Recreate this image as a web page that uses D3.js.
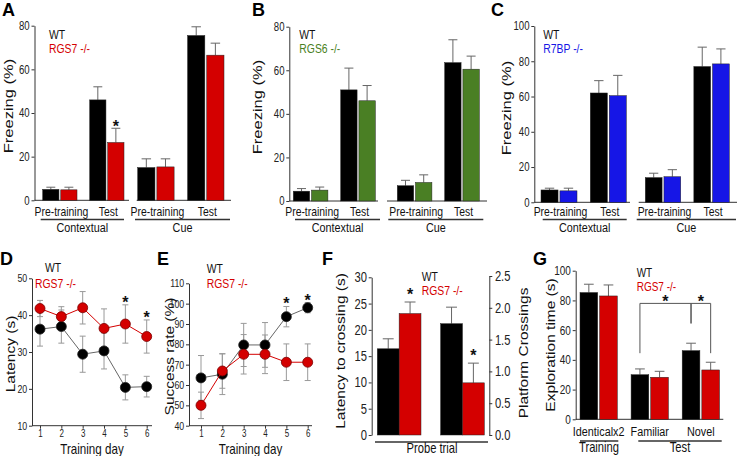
<!DOCTYPE html>
<html>
<head>
<meta charset="utf-8">
<script src="https://cdn.jsdelivr.net/npm/d3@7"></script>
<style>
  body { margin: 0; background: #fff; }
  svg { display: block; font-family: "Liberation Sans", Arial, sans-serif; }
</style>
</head>
<body>
<svg width="738" height="456"></svg>
<script>
// ---------- data ----------
var phases = ["Pre-training", "Test", "Pre-training", "Test"];
var sections = ["Contextual", "Cue"];

var aWT = [5, 46, 15, 75.5], aWTerr = [1, 6, 4, 4];
var aKO = [4.8, 26.5, 15.3, 66.5], aKOerr = [1.2, 6.5, 3.7, 5.5];
var bWT = [4.5, 51, 7, 63.5], bWTerr = [1.2, 10, 2.5, 10.5];
var bKO = [5, 46, 8.5, 60.5], bKOerr = [1.4, 7, 3.5, 6];
var cWT = [7, 62, 14, 77], cWTerr = [1, 7, 2.5, 11];
var cKO = [6.5, 60.5, 14.5, 78.5], cKOerr = [1.5, 11.5, 4, 8.5];

var days = [1, 2, 3, 4, 5, 6];
var dWT = [36.2, 36.9, 29.4, 30.3, 20.4, 20.6], dWTerr = [4.6, 4.5, 4.9, 4.9, 3.4, 2.8];
var dKO = [41.8, 39.6, 42, 36.4, 37.6, 34.2], dKOerr = [2.2, 2.7, 4.4, 5.3, 5.2, 4.5];
var dStarDays = [5, 6];
var eWT = [63.5, 65.3, 79.7, 79.7, 93.6, 98], eWTerr = [11, 10, 10.6, 11, 5, 2.5];
var eKO = [50, 66.9, 75.1, 75.1, 71.2, 71.2], eKOerr = [6.5, 8.5, 9.7, 9.5, 9, 9];
var eStarDays = [5, 6];

var fLatency = [16.4, 23.1], fLatencyErr = [1.9, 2.2];
var fCross = [1.75, 0.82], fCrossErr = [0.26, 0.31];

var gCats = ["Identicalx2", "Familiar", "Novel"];
var gWT = [85.3, 30, 46.2], gWTerr = [5.6, 3.9, 5];
var gKO = [83, 28.3, 33.2], gKOerr = [7.4, 4, 5.2];

// ---------- helpers ----------
var svg = d3.select("svg");
var K = 0.8;
var RED = "#d40000", GREEN = "#4a7f24", BLUE = "#1616e6";
var AX = "#333", ERR = "#666";

function T(str, x, y, o) {
  o = o || {};
  var tr = "translate(" + x + "," + y + ")";
  if (!o.noScale) tr += " scale(" + (o.k || K) + ",1)";
  if (o.rot) tr += " rotate(-90)";
  return svg.append("text").attr("transform", tr)
    .attr("font-size", o.size || 12)
    .attr("text-anchor", o.anchor || "start")
    .attr("font-weight", o.bold ? "bold" : null)
    .attr("fill", o.fill || "#111")
    .text(str);
}

function fixAxis(ax, size) {
  ax.attr("font-family", null).attr("font-size", null);
  ax.select(".domain").attr("stroke", AX);
  ax.selectAll(".tick line").attr("stroke", AX);
  ax.selectAll(".tick text").attr("font-size", size).attr("fill", "#222")
    .attr("transform", "scale(" + K + ",1)");
}

function hline(x1, x2, y, w, c) {
  svg.append("line").attr("x1", x1).attr("x2", x2).attr("y1", y).attr("y2", y)
    .attr("stroke", c || AX).attr("stroke-width", w || 1);
}

function errUp(cx, yv, ye, cap) {
  svg.append("line").attr("x1", cx).attr("x2", cx).attr("y1", yv).attr("y2", ye).attr("stroke", ERR);
  svg.append("line").attr("x1", cx - cap / 2).attr("x2", cx + cap / 2).attr("y1", ye).attr("y2", ye).attr("stroke", ERR);
}

function star(x, y) {
  T("*", x, y, {size: 16, anchor: "middle", bold: true, k: 1});
}

// ---------- panels A-C ----------
function barPanel(o) {
  var y = d3.scaleLinear().domain([0, o.max]).range([o.y0, o.y1]);
  var ax = svg.append("g").attr("transform", "translate(" + o.ax + ",0)")
    .call(d3.axisLeft(y).ticks(o.max / 20).tickSize(3).tickPadding(3).tickSizeOuter(0));
  fixAxis(ax, 12);
  o.segs.forEach(function(s, si) {
    hline(s.axis[0], s.axis[1], o.y0);
    var idx = [si * 2, si * 2 + 1];
    var xb = d3.scaleBand().domain(idx).range(s.bars).paddingInner(0.27);
    var xi = d3.scaleBand().domain([0, 1]).range([0, xb.bandwidth()]).paddingInner(0.1);
    idx.forEach(function(i) {
      var ser = [{v: o.wt[i], e: o.wtErr[i], c: "#000"}, {v: o.ko[i], e: o.koErr[i], c: o.color}];
      ser.forEach(function(d, k) {
        var x0 = xb(i) + xi(k), w = xi.bandwidth();
        errUp(x0 + w / 2, y(d.v), y(d.v + d.e), w * 0.55);
        svg.append("rect").attr("x", x0).attr("y", y(d.v)).attr("width", w)
          .attr("height", o.y0 - y(d.v)).attr("fill", d.c)
          .attr("stroke", "#222").attr("stroke-width", 0.5);
        if (o.stars && o.stars.some(function(st) { return st[0] === i && st[1] === k; }))
          star(x0 + w / 2, y(d.v + d.e) + 4);
      });
      T(phases[i], xb(i) + xb.bandwidth() / 2 + 1.5, 215.5, {size: 13, anchor: "middle"});
    });
    hline(s.line[0], s.line[1], 219.5, 1.6, "#333");
    T(sections[si], (s.line[0] + s.line[1]) / 2, 231.5, {size: 13.5, anchor: "middle"});
  });
  T("Freezing (%)", o.titleX, o.titleY, {size: 16.5, anchor: "middle", rot: true});
  T("WT", o.legX, 39, {size: 13});
  T(o.koName, o.legX, 52.5, {size: 13, fill: o.color});
  T(o.letter, o.letterX, 16, {size: 18, bold: true, noScale: true, fill: "#000"});
}

barPanel({letter: "A", letterX: 2, ax: 34.5, y0: 200.3, y1: 25.7, max: 80,
  wt: aWT, wtErr: aWTerr, ko: aKO, koErr: aKOerr, color: RED, koName: "RGS7 -/-",
  stars: [[1, 1]], titleX: 13, titleY: 106, legX: 49,
  segs: [{axis: [34.5, 129], bars: [42.7, 124], line: [40.7, 124]},
         {axis: [136.7, 231], bars: [137.7, 224], line: [135, 230]}]});

barPanel({letter: "B", letterX: 252, ax: 289.3, y0: 201, y1: 26.7, max: 80,
  wt: bWT, wtErr: bWTerr, ko: bKO, koErr: bKOerr, color: GREEN, koName: "RGS6 -/-",
  titleX: 262, titleY: 107, legX: 299.3,
  segs: [{axis: [289.3, 378], bars: [293.3, 375.3], line: [295, 380]},
         {axis: [387, 487], bars: [397.3, 479.3], line: [388.3, 483.3]}]});

barPanel({letter: "C", letterX: 491, ax: 534.3, y0: 202.3, y1: 26, max: 100,
  wt: cWT, wtErr: cWTerr, ko: cKO, koErr: cKOerr, color: BLUE, koName: "R7BP -/-",
  titleX: 511, titleY: 108, legX: 543.3,
  segs: [{axis: [534.3, 630], bars: [541, 626.3], line: [542.7, 626.7]},
         {axis: [638.7, 737], bars: [645.3, 729.3], line: [636.7, 736]}]});

// ---------- panels D-E ----------
function linePanel(o) {
  var x = d3.scaleLinear().domain([1, 6]).range(o.xr);
  var y = d3.scaleLinear().domain(o.dom).range([o.y0, o.y1]);
  var ay = svg.append("g").attr("transform", "translate(" + o.ax + ",0)")
    .call(d3.axisLeft(y).tickValues(o.ticks).tickSize(3).tickPadding(3).tickSizeOuter(0));
  fixAxis(ay, 11);
  hline(o.ax, o.axEnd, o.y0);
  var axb = svg.append("g").attr("transform", "translate(0," + o.y0 + ")")
    .call(d3.axisBottom(x).tickValues(days).tickFormat(d3.format("d"))
      .tickSize(3).tickPadding(1.5).tickSizeOuter(0));
  fixAxis(axb, 10);
  axb.select(".domain").remove();

  var series = [{v: o.wt, e: o.wtErr, c: "#000", lc: "#666", sc: "#222"},
                {v: o.ko, e: o.koErr, c: RED, lc: RED, sc: "#7a0000"}];
  series.forEach(function(s) {
    days.forEach(function(d, i) {
      var cx = x(d);
      svg.append("line").attr("x1", cx).attr("x2", cx)
        .attr("y1", y(s.v[i] - s.e[i])).attr("y2", y(s.v[i] + s.e[i])).attr("stroke", "#999");
      [s.v[i] - s.e[i], s.v[i] + s.e[i]].forEach(function(ev) {
        svg.append("line").attr("x1", cx - 3).attr("x2", cx + 3)
          .attr("y1", y(ev)).attr("y2", y(ev)).attr("stroke", "#999");
      });
    });
  });
  series.forEach(function(s) {
    svg.append("path").datum(s.v)
      .attr("fill", "none").attr("stroke", s.lc).attr("stroke-width", 1)
      .attr("d", d3.line().x(function(d, i) { return x(days[i]); }).y(function(d) { return y(d); }));
    svg.selectAll(null).data(s.v).enter().append("circle")
      .attr("cx", function(d, i) { return x(days[i]); })
      .attr("cy", function(d) { return y(d); })
      .attr("r", 5).attr("fill", s.c).attr("stroke", s.sc).attr("stroke-width", 0.8);
  });
  o.stars.forEach(function(d) {
    var i = days.indexOf(d);
    var top = Math.max(o.wt[i] + o.wtErr[i], o.ko[i] + o.koErr[i]);
    star(x(d), y(top) + 3);
  });
  T("Training day", (o.ax + o.axEnd) / 2, 453.5, {size: 14.5, anchor: "middle"});
  T(o.title, o.titleX, (o.y0 + o.y1) / 2 + 2, {size: 15.5, anchor: "middle", rot: true});
  T("WT", o.legX[0], o.legY[0], {size: 13});
  T("RGS7 -/-", o.legX[1], o.legY[1], {size: 13, fill: RED});
  T(o.letter, o.letterX, 265, {size: 18, bold: true, noScale: true, fill: "#000"});
}

linePanel({letter: "D", letterX: 0, ax: 32, axEnd: 152, xr: [40, 146.7], y0: 425.7, y1: 278.3,
  dom: [10, 50], ticks: [10, 20, 30, 40, 50], wt: dWT, wtErr: dWTerr, ko: dKO, koErr: dKOerr,
  stars: dStarDays, title: "Latency (s)", titleX: 15, legX: [45, 35], legY: [271.5, 288]});

linePanel({letter: "E", letterX: 157, ax: 189, axEnd: 312, xr: [201, 307.7], y0: 425.7, y1: 283.3,
  dom: [40, 110], ticks: [40, 50, 60, 70, 80, 90, 100, 110], wt: eWT, wtErr: eWTerr, ko: eKO, koErr: eKOerr,
  stars: eStarDays, title: "Success rate (%)", titleX: 174, legX: [206.7, 206.7], legY: [273.3, 288.3]});

// ---------- panel F ----------
(function() {
  var y0 = 435;
  var yL = d3.scaleLinear().domain([0, 30]).range([y0, 277.3]);
  var yR = d3.scaleLinear().domain([0, 2.5]).range([y0, 276]);
  var al = svg.append("g").attr("transform", "translate(371.7,0)")
    .call(d3.axisLeft(yL).tickValues([0, 5, 10, 15, 20, 25, 30]).tickSize(3).tickPadding(3).tickSizeOuter(0));
  fixAxis(al, 14);
  var ar = svg.append("g").attr("transform", "translate(489.3,0)")
    .call(d3.axisRight(yR).tickValues([0, 0.5, 1, 1.5, 2, 2.5]).tickFormat(d3.format(".1f"))
      .tickSize(3).tickPadding(4).tickSizeOuter(0));
  fixAxis(ar, 14);
  var xb = d3.scaleBand().domain([0, 1]).range([377.3, 484.3]).paddingInner(0.31);
  var xi = d3.scaleBand().domain([0, 1]).range([0, xb.bandwidth()]);
  var sets = [{ys: yL, v: fLatency, e: fLatencyErr}, {ys: yR, v: fCross, e: fCrossErr}];
  sets.forEach(function(s, p) {
    [0, 1].forEach(function(k) {
      var x0 = xb(p) + xi(k), w = xi.bandwidth();
      errUp(x0 + w / 2, s.ys(s.v[k]), s.ys(s.v[k] + s.e[k]), w * 0.5);
      svg.append("rect").attr("x", x0).attr("y", s.ys(s.v[k])).attr("width", w)
        .attr("height", y0 - s.ys(s.v[k])).attr("fill", k ? RED : "#000")
        .attr("stroke", "#222").attr("stroke-width", 0.5);
      if (k === 1) star(x0 + w / 2, s.ys(s.v[k] + s.e[k]) - 2);
    });
  });
  hline(375, 488, 442, 1.6);
  T("Probe trial", 432, 453, {size: 14, anchor: "middle"});
  T("Latency to crossing (s)", 345, 351, {size: 15.5, anchor: "middle", rot: true});
  T("Platform Crossings", 528, 353, {size: 15.5, anchor: "middle", rot: true});
  T("WT", 421.7, 281, {size: 13});
  T("RGS7 -/-", 421.7, 295, {size: 13, fill: RED});
  T("F", 322, 265, {size: 18, bold: true, noScale: true, fill: "#000"});
})();

// ---------- panel G ----------
(function() {
  var y0 = 419.3;
  var y = d3.scaleLinear().domain([0, 100]).range([y0, 270.7]);
  var ay = svg.append("g").attr("transform", "translate(575.7,0)")
    .call(d3.axisLeft(y).ticks(5).tickSize(3).tickPadding(3).tickSizeOuter(0));
  fixAxis(ay, 12.5);
  hline(575.7, 723.3, y0);
  var xb = d3.scaleBand().domain(d3.range(gCats.length)).range([580, 719.5]).paddingInner(0.27);
  var xi = d3.scaleBand().domain([0, 1]).range([0, xb.bandwidth()]).paddingInner(0.1);
  var centers = [];
  gCats.forEach(function(c, i) {
    var ser = [{v: gWT[i], e: gWTerr[i], c: "#000"}, {v: gKO[i], e: gKOerr[i], c: RED}];
    centers.push([]);
    ser.forEach(function(d, k) {
      var x0 = xb(i) + xi(k), w = xi.bandwidth();
      centers[i].push(x0 + w / 2);
      errUp(x0 + w / 2, y(d.v), y(d.v + d.e), w * 0.55);
      svg.append("rect").attr("x", x0).attr("y", y(d.v)).attr("width", w)
        .attr("height", y0 - y(d.v)).attr("fill", d.c)
        .attr("stroke", "#222").attr("stroke-width", 0.5);
    });
    T(c, xb(i) + xb.bandwidth() / 2, 436, {size: 13.5, anchor: "middle"});
  });
  // significance brackets
  var brackets = [[centers[1][0], centers[2][0], 44.5, 64.5], [centers[2][0], centers[2][1], 64.5, 44.5]];
  brackets.forEach(function(b) {
    svg.append("path")
      .attr("d", d3.line()([[b[0], y(b[2])], [b[0], y(78)], [b[1], y(78)], [b[1], y(b[3])]]))
      .attr("fill", "none").attr("stroke", "#555");
    star((b[0] + b[1]) / 2, y(78) + 4);
  });
  hline(580, 618.3, 441, 1.6);
  hline(638.3, 721.7, 441, 1.6);
  T("Training", 599, 452, {size: 14, anchor: "middle"});
  T("Test", 680, 452, {size: 14, anchor: "middle"});
  T("Exploration time (s)", 555, 345, {size: 15.5, anchor: "middle", rot: true});
  T("WT", 636.7, 276.5, {size: 12.5});
  T("RGS7 -/-", 636.7, 290.5, {size: 12.5, fill: RED});
  T("G", 533, 265, {size: 18, bold: true, noScale: true, fill: "#000"});
})();
</script>
</body>
</html>
